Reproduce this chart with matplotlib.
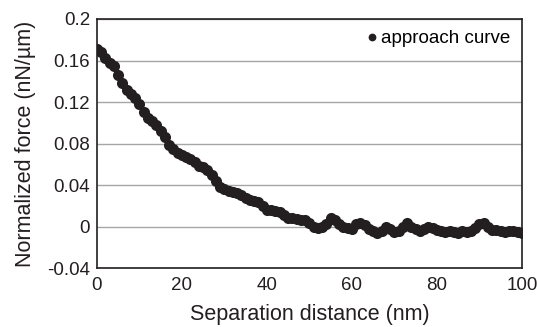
import numpy as np
import matplotlib.pyplot as plt

plt.rcParams['font.family'] = ['Liberation Sans', 'DejaVu Sans']

# Separation distance (nm) and normalized force (nN/um)
distance = list(range(0, 101))
force = [
    0.171, 0.168, 0.162, 0.158, 0.155, 0.146, 0.138, 0.132, 0.128, 0.124,
    0.118, 0.110, 0.105, 0.102, 0.098, 0.092, 0.086, 0.079, 0.075, 0.071,
    0.069, 0.067, 0.065, 0.062, 0.058, 0.057, 0.054, 0.050, 0.044, 0.038,
    0.036, 0.034, 0.033, 0.032, 0.030, 0.027, 0.026, 0.025, 0.024, 0.020,
    0.016, 0.016, 0.015, 0.014, 0.011, 0.008, 0.008, 0.007, 0.006, 0.006,
    0.003, 0.000, -0.001, 0.000, 0.002, 0.008, 0.006, 0.002, 0.000, -0.001,
    -0.002, 0.002, 0.003, 0.001, -0.002, -0.004, -0.006, -0.004, 0.000, -0.002,
    -0.005, -0.004, 0.000, 0.003, 0.000, -0.002, -0.004, -0.002, 0.000, -0.001,
    -0.003, -0.004, -0.005, -0.004, -0.005, -0.006, -0.004, -0.005, -0.004, -0.001,
    0.002, 0.003, 0.000, -0.003, -0.003, -0.004, -0.005, -0.004, -0.004, -0.005,
    -0.006,
]
xticks = [0, 20, 40, 60, 80, 100]
yticks = [-0.04, 0, 0.04, 0.08, 0.12, 0.16, 0.2]
ytick_labels = ['-0.04', '0', '0.04', '0.08', '0.12', '0.16', '0.2']

fig = plt.figure(figsize=(5.37, 3.27), dpi=100)
ax = fig.add_axes([0.1806, 0.1804, 0.7914, 0.7615])

ax.plot(distance, force, 'o', color='#231f20', markersize=8,
        markeredgewidth=0, label='approach curve', zorder=3)

ax.set_xlim(0, 100)
ax.set_ylim(-0.04, 0.2)
ax.set_xticks(xticks)
ax.set_yticks(yticks)
ax.set_yticklabels(ytick_labels)
ax.tick_params(length=0, labelsize=13.5, colors='#231f20')
ax.tick_params(axis='x', pad=6.5)
ax.tick_params(axis='y', pad=5)
ax.grid(axis='y', color='#a6a6a6', linewidth=1)
ax.set_axisbelow(True)
for s in ax.spines.values():
    s.set_color('#231f20')
    s.set_linewidth(1.2)

ax.set_xlabel('Separation distance (nm)', fontsize=15.5, color='#231f20', labelpad=7.5)
ax.set_ylabel('Normalized force (nN/\u00b5m)', fontsize=15.5, color='#231f20', labelpad=8)

ax.legend(loc='upper right', frameon=False, fontsize=13.5, handletextpad=0.0,
          markerscale=0.7, borderaxespad=0.2, handlelength=1.0)

fig.savefig('out.png', dpi=100)
